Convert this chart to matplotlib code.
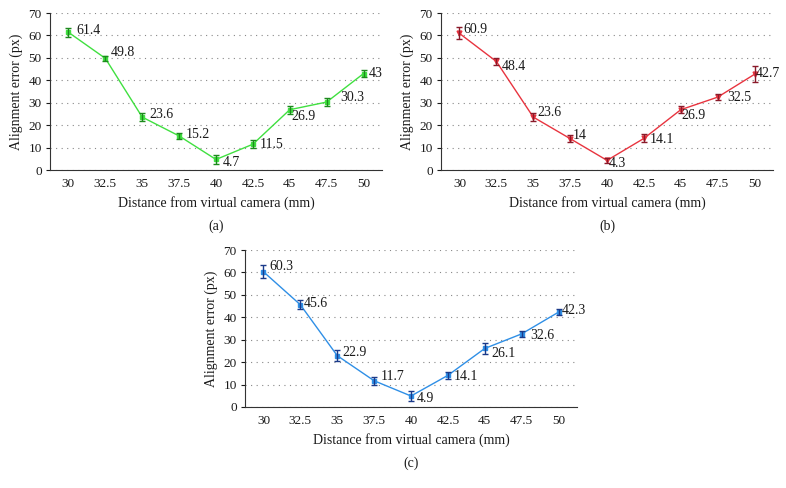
import numpy as np
import matplotlib.pyplot as plt

plt.rcParams['font.family'] = ['Liberation Serif', 'DejaVu Serif']

distances = ['30', '32.5', '35', '37.5', '40', '42.5', '45', '47.5', '50']

err_a = [61.4, 49.8, 23.6, 15.2, 4.7, 11.5, 26.9, 30.3, 43]
sd_a = [2.0, 1.0, 1.8, 1.5, 1.9, 1.8, 1.8, 1.7, 1.5]

err_b = [60.9, 48.4, 23.6, 14, 4.3, 14.1, 26.9, 32.5, 42.7]
sd_b = [2.7, 1.6, 1.8, 1.5, 1.2, 1.8, 1.5, 1.3, 3.6]

err_c = [60.3, 45.6, 22.9, 11.7, 4.9, 14.1, 26.1, 32.6, 42.3]
sd_c = [2.8, 1.9, 2.5, 1.7, 2.1, 1.5, 2.6, 1.3, 1.2]

# label offsets (points) for the value annotations
off_a = [(5.5, 1.5), (4, 4.5), (5, 2), (4.5, 1), (5, -2.5), (5, 0), (1.5, -5), (10, 3.5), (4, 0)]
off_b = [(3, 3), (4, -3.5), (3, 3), (2, 2), (1.5, -2), (4, -1), (0.5, -4), (7, 0), (1, 0.5)]
off_c = [(4.5, 4), (2.5, 1), (4, 2), (5, 3), (4, -2), (4.5, -1), (5, -3.5), (6.5, -1), (2, 1)]

fig = plt.figure(figsize=(7.86, 4.88), dpi=100)

panels = [
    ([0.0636, 0.6516, 0.4224, 0.3217], err_a, sd_a, off_a, '#40e040', '#1c8a1c', 's', '(a)'),
    ([0.5611, 0.6516, 0.4224, 0.3217], err_b, sd_b, off_b, '#e8343f', '#8a1a2a', 'v', '(b)'),
    ([0.3117, 0.1660, 0.4224, 0.3217], err_c, sd_c, off_c, '#2f8fe6', '#1a3a8a', 's', '(c)'),
]

for rect, vals, sds, offs, col, ecol, mk, cap in panels:
    ax = fig.add_axes(rect)
    x = np.arange(len(distances))
    ax.plot(x, vals, color=col, lw=1.0, marker=mk, ms=3.5, mec=col, zorder=3)
    ax.errorbar(x, vals, yerr=sds, fmt='none', ecolor=ecol, elinewidth=1.0,
                capsize=2.2, capthick=1.0, zorder=4)
    for xi, v, o in zip(x, vals, offs):
        ax.annotate('{:g}'.format(v), (xi, v), xytext=o, textcoords='offset points',
                    fontsize=10, color='#1a1a1a', va='center', ha='left')
    ax.set_xlim(-0.5, len(distances) - 0.5)
    ax.set_ylim(0, 70)
    ax.set_yticks(np.arange(0, 71, 10))
    ax.set_xticks(x)
    ax.set_xticklabels(distances)
    ax.yaxis.grid(True, linestyle=(0, (1, 4)), color='#888888', lw=0.8)
    ax.set_axisbelow(True)
    for s in ['top', 'right']:
        ax.spines[s].set_visible(False)
    ax.spines['left'].set_color('#333333')
    ax.spines['bottom'].set_color('#333333')
    ax.tick_params(axis='y', length=3, labelsize=9.5, colors='#1a1a1a', pad=3)
    ax.tick_params(axis='x', length=0, labelsize=9.5, colors='#1a1a1a', pad=6)
    ax.set_ylabel('Alignment error (px)', fontsize=10, color='#1a1a1a', labelpad=4)
    ax.set_xlabel('Distance from virtual camera (mm)', fontsize=10, color='#1a1a1a', labelpad=4)
    ax.text(0.5, -0.36, cap, transform=ax.transAxes, ha='center', va='center',
            fontsize=10, color='#1a1a1a')

fig.savefig('out.png', dpi=100)
